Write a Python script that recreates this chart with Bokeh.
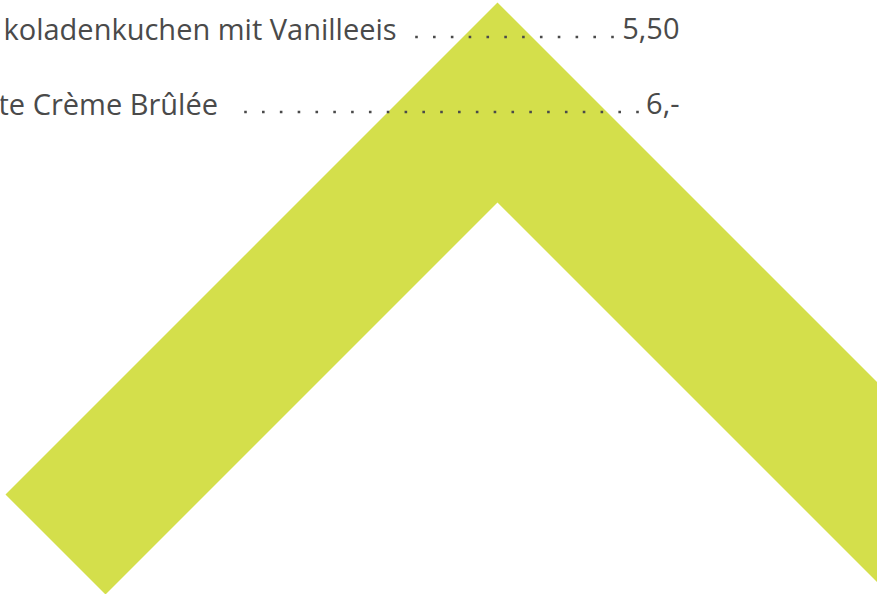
import numpy as np
from bokeh.plotting import figure
from bokeh.models import ColumnDataSource
from bokeh.core.properties import value
from bokeh.embed import file_html
from bokeh.resources import INLINE

# menu items (visible portions) and prices
items = ["koladenkuchen mit Vanilleeis", "te Crème Brûlée"]
prices = ["5,50", "6,-"]
item_start_x = [3, -2]
row_y = [38.5, 113.5]
leader_start = [416, 245]
leader_end = [612, 637]
price_end_x = 679

# chevron outline (page pixel coordinates)
chev_x = [497, 989, 889, 497, 105, 5]
chev_y = [2, 494, 594, 202, 594, 494]

GREEN = "#d4df4b"
TEXT = "#4a4a4a"

p = figure(width=877, height=594, x_range=(0, 877), y_range=(594, 0),
           output_backend="svg", toolbar_location=None, min_border=0)
p.axis.visible = False
p.grid.visible = False
p.outline_line_color = None
p.background_fill_color = "white"
p.border_fill_color = "white"

p.patch(chev_x, chev_y, fill_color=GREEN, line_color=None)

# leader dots
dx, dy = [], []
for s, e, y in zip(leader_start, leader_end, row_y):
    n = int(round((e - s) / 17.8)) + 1
    xs = np.linspace(s, e, n)
    dx.extend(xs.tolist())
    dy.extend([y - 2] * n)
p.scatter(dx, dy, marker="square", size=2.6, fill_color=TEXT, line_color=None)

src = ColumnDataSource(dict(x=item_start_x, y=row_y, t=items))
p.text("x", "y", text="t", source=src, text_align="left", text_baseline="alphabetic",
       y_offset=-11, text_font=value("Open Sans"), text_font_size="29px", text_color=TEXT)

src2 = ColumnDataSource(dict(x=[price_end_x] * 2, y=row_y, t=prices))
p.text("x", "y", text="t", source=src2, text_align="right", text_baseline="alphabetic",
       y_offset=-11, text_font=value("Open Sans"), text_font_size="29px", text_color=TEXT)

open("out.html", "w").write(file_html(p, INLINE))
